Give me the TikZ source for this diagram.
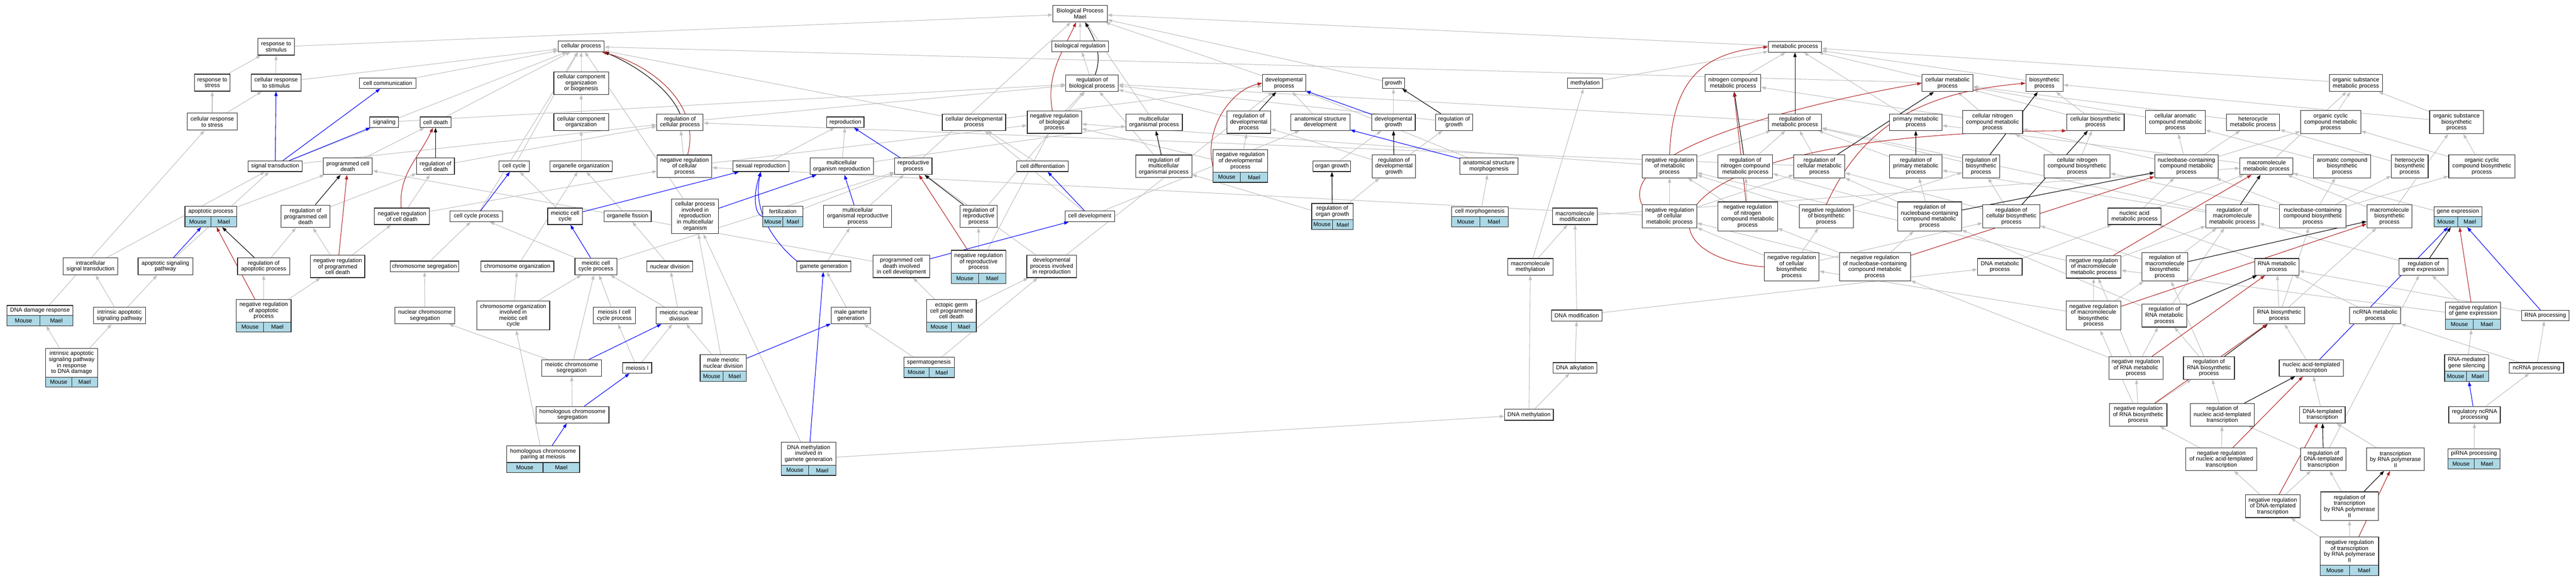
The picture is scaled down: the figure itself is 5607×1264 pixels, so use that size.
\documentclass[tikz,border=0pt]{standalone}
\usepackage{fontspec}
\setmainfont{Liberation Sans}
\usetikzlibrary{arrows.meta,fit}
\pgfdeclarelayer{bg}
\pgfsetlayers{bg,main}
\definecolor{eg}{RGB}{192,192,192}
\definecolor{mcol}{RGB}{173,216,230}
\definecolor{redc}{RGB}{178,34,34}
\tikzset{
 bx/.style={draw=black!85,line width=1.3pt,fill=white,inner sep=1pt,align=center,font=\fontsize{12.5pt}{13pt}\selectfont},
 gbx/.style={draw=black!85,line width=1.3pt,inner sep=0pt},
 txt/.style={inner sep=0pt,align=center,font=\fontsize{12.5pt}{13pt}\selectfont},
 ge/.style={draw=eg,line width=1.2pt,-{Triangle[length=10pt,width=7pt]}},
 be/.style={draw=blue,line width=1.2pt,-{Triangle[length=10pt,width=7pt]}},
 ke/.style={draw=black,line width=1.2pt,-{Triangle[length=10pt,width=7pt]}},
 re/.style={draw=redc,line width=1.2pt,-{Triangle[length=10pt,width=7pt]}},
}
\newcommand{\nd}[6]{\node[bx,minimum width=#4pt,minimum height=#5pt] (#1) at (#2,#3) {#6};}
\newcommand{\gn}[6]{%
 \fill[white] ({#2-#4/2},{#3}) rectangle ({#2+#4/2},{#3+#5});
 \fill[mcol] ({#2-#4/2},{#3+#5}) rectangle ({#2+#4/2},{#3+#5+22});
 \draw[draw=black!85,line width=1.3pt] ({#2-#4/2},{#3+#5}) -- ({#2+#4/2},{#3+#5}) ({#2},{#3+#5}) -- ({#2},{#3+#5+22});
 \node[txt] at ({#2},{#3+#5/2}) {#6};
 \node[txt] at ({#2-#4/4},{#3+#5+11}) {Mouse};
 \node[txt] at ({#2+#4/4},{#3+#5+11}) {Mael};
 \coordinate (#1-a) at ({#2-#4/2},{#3});
 \coordinate (#1-b) at ({#2+#4/2},{#3+#5+22});
 \node[gbx,fit=(#1-a)(#1-b)] (#1) {};
}
\begin{document}
\begin{tikzpicture}[x=1pt,y=-1pt]
\useasboundingbox (0,0) rectangle (5607,1264);
\begin{pgfonlayer}{bg}
\fill[white] (0,0) rectangle (5607,1264);
\end{pgfonlayer}
% row 30-101
\nd{BP}{2351}{30}{118}{36}{Biological Process\\Mael}
\nd{breg}{2351}{101}{124}{23}{biological regulation}
\nd{cp}{1265}{101}{100}{23}{cellular process}
\nd{mp}{3907}{102}{116}{23}{metabolic process}
\nd{rs}{601}{102}{79}{36}{response to\\stimulus}
% row 181
\nd{rbp}{2377}{181}{114}{36}{regulation of\\biological process}
\nd{rstress}{462}{180}{78}{37}{response to\\stress}
\nd{crs}{601}{180}{108}{37}{cellular response\\to stimulus}
\nd{ccomm}{844}{181}{123}{23}{cell communication}
\nd{ccoob}{1265}{181}{119}{49}{cellular component\\organization\\or biogenesis}
\nd{devp}{2795}{181}{94}{37}{developmental\\process}
\nd{growth}{3033}{181}{48}{23}{growth}
\nd{meth}{3450}{181}{77}{23}{methylation}
\nd{ncm}{3772}{181}{121}{37}{nitrogen compound\\metabolic process}
\nd{cmp}{4239}{181}{111}{37}{cellular metabolic\\process}
\nd{bsp}{4450}{181}{81}{37}{biosynthetic\\process}
\nd{osmp}{5128}{181}{116}{37}{organic substance\\metabolic process}
% row 266
\nd{crstress}{462}{265}{108}{37}{cellular response\\to stress}
\nd{sig}{836}{266}{62}{23}{signaling}
\nd{cdeath}{948}{266}{67}{23}{cell death}
\nd{cco}{1265}{266}{119}{37}{cellular component\\organization}
\nd{rcp}{1480}{266}{101}{36}{regulation of\\cellular process}
\nd{repro}{1840}{266}{81}{23}{reproduction}
\nd{cdp}{2120}{266}{138}{36}{cellular developmental\\process}
\nd{nrbp}{2295}{266}{118}{49}{negative regulation\\of biological\\process}
\nd{mop}{2512}{266}{123}{36}{multicellular\\organismal process}
\nd{rdp}{2718}{266}{95}{49}{regulation of\\developmental\\process}
\nd{asd}{2874}{266}{129}{36}{anatomical structure\\development}
\nd{dgrowth}{3033}{266}{95}{36}{developmental\\growth}
\nd{rgrowth}{3165}{266}{81}{36}{regulation of\\growth}
\nd{rmp}{3907}{266}{116}{36}{regulation of\\metabolic process}
\nd{pmp}{4170}{266}{114}{36}{primary metabolic\\process}
\nd{cncmp}{4337}{266}{131}{50}{cellular nitrogen\\compound metabolic\\process}
\nd{cbp}{4561}{266}{125}{36}{cellular biosynthetic\\process}
\nd{camp}{4735}{266}{130}{50}{cellular aromatic\\compound metabolic\\process}
\nd{hmp}{4904}{266}{116}{36}{heterocycle\\metabolic process}
\nd{occmp}{5073}{266}{131}{50}{organic cyclic\\compound metabolic\\process}
\nd{osbp}{5347}{266}{117}{50}{organic substance\\biosynthetic\\process}
% row 362
\nd{st}{599}{362}{118}{23}{signal transduction}
\nd{pcd}{757}{362}{107}{36}{programmed cell\\death}
\nd{rcd}{948}{362}{82}{36}{regulation of\\cell death}
\nd{ccyc}{1119}{362}{66}{23}{cell cycle}
\nd{oo}{1265}{362}{136}{23}{organelle organization}
\nd{nrcp}{1490}{362}{119}{49}{negative regulation\\of cellular\\process}
\nd{sexr}{1656}{362}{122}{23}{sexual reproduction}
\nd{mor}{1832}{362}{138}{36}{multicellular\\organism reproduction}
\nd{rp}{1988}{362}{81}{36}{reproductive\\process}
\nd{cdiff}{2269}{362}{112}{23}{cell differentiation}
\nd{rmop}{2533}{362}{122}{49}{regulation of\\multicellular\\organismal process}
\gn{nrdp}{2700}{326}{119}{49}{negative regulation\\of developmental\\process}
\nd{ogrowth}{2899}{362}{82}{23}{organ growth}
\nd{rdg}{3034}{362}{94}{50}{regulation of\\developmental\\growth}
\nd{asm}{3241}{362}{127}{36}{anatomical structure\\morphogenesis}
\nd{nrmp}{3634}{362}{119}{50}{negative regulation\\of metabolic\\process}
\nd{rncm}{3799}{362}{119}{50}{regulation of\\nitrogen compound\\metabolic process}
\nd{rcmp}{3960}{362}{111}{50}{regulation of\\cellular metabolic\\process}
\nd{rpmp}{4170}{362}{114}{50}{regulation of\\primary metabolic\\process}
\nd{rbsp}{4312}{362}{81}{50}{regulation of\\biosynthetic\\process}
\nd{cncbp}{4521}{362}{144}{50}{cellular nitrogen\\compound biosynthetic\\process}
\nd{nbcmp}{4759}{362}{138}{50}{nucleobase-containing\\compound metabolic\\process}
\nd{mmp}{4933}{362}{115}{36}{macromolecule\\metabolic process}
\nd{acbp}{5098}{362}{124}{50}{aromatic compound\\biosynthetic\\process}
\nd{hbp}{5245}{362}{80}{50}{heterocycle\\biosynthetic\\process}
\nd{occbp}{5402}{362}{144}{50}{organic cyclic\\compound biosynthetic\\process}
% row 471
\gn{apop}{459}{449}{113}{23}{apoptotic process}
\nd{rpcd}{665}{471}{107}{49}{regulation of\\programmed cell\\death}
\nd{nrcd}{875}{471}{120}{36}{negative regulation\\of cell death}
\nd{ccp}{1037}{471}{114}{23}{cell cycle process}
\nd{mcc}{1230}{471}{76}{36}{meiotic cell\\cycle}
\nd{ofis}{1366}{471}{103}{23}{organelle fission}
\nd{cpirmo}{1513}{471}{102}{76}{cellular process\\involved in\\reproduction\\in multicellular\\organism}
\gn{fert}{1704}{449}{87}{23}{fertilization}
\nd{morp}{1867}{471}{148}{49}{multicellular\\organismal reproductive\\process}
\nd{rrp}{2130}{471}{81}{49}{regulation of\\reproductive\\process}
\nd{cdev}{2372}{471}{108}{23}{cell development}
\gn{rog}{2900}{443}{90}{35}{regulation of\\organ growth}
\gn{cmorph}{3221}{450}{123}{22}{cell morphogenesis}
\nd{mmod}{3428}{471}{98}{36}{macromolecule\\modification}
\nd{nrcmp}{3634}{471}{119}{50}{negative regulation\\of cellular\\metabolic process}
\nd{nrncm}{3804}{471}{130}{63}{negative regulation\\of nitrogen\\compound metabolic\\process}
\nd{nrbsp}{3975}{471}{118}{50}{negative regulation\\of biosynthetic\\process}
\nd{rnbcmp}{4200}{471}{139}{63}{regulation of\\nucleobase-containing\\compound metabolic\\process}
\nd{rcbp}{4378}{471}{125}{50}{regulation of\\cellular biosynthetic\\process}
\nd{namp}{4646}{471}{116}{36}{nucleic acid\\metabolic process}
\nd{rmmp}{4859}{471}{116}{50}{regulation of\\macromolecule\\metabolic process}
\nd{nbcbp}{5034}{471}{145}{50}{nucleobase-containing\\compound biosynthetic\\process}
\nd{mbp}{5201}{471}{98}{50}{macromolecule\\biosynthetic\\process}
\gn{gexp}{5350}{450}{104}{22}{gene expression}
% row 580
\nd{ist}{197}{580}{119}{37}{intracellular\\signal transduction}
\nd{asp}{360}{580}{119}{37}{apoptotic signaling\\pathway}
\nd{rap}{574}{580}{114}{37}{regulation of\\apoptotic process}
\nd{nrpcd}{735}{580}{118}{49}{negative regulation\\of programmed\\cell death}
\nd{cseg}{924}{580}{150}{23}{chromosome segregation}
\nd{corg}{1126}{580}{159}{23}{chromosome organization}
\nd{mccp}{1297}{580}{91}{36}{meiotic cell\\cycle process}
\nd{ndiv}{1458}{580}{100}{23}{nuclear division}
\nd{gg}{1793}{580}{117}{23}{gamete generation}
\nd{pcdicd}{1962}{580}{123}{49}{programmed cell\\death involved\\in cell development}
\gn{nrrp}{2130}{545}{119}{50}{negative regulation\\of reproductive\\process}
\nd{dpir}{2289}{580}{108}{49}{developmental\\process involved\\in reproduction}
\nd{mmeth}{3331}{581}{98}{36}{macromolecule\\methylation}
\nd{nrcbp}{3900}{581}{119}{62}{negative regulation\\of cellular\\biosynthetic\\process}
\nd{nrnbcmp}{4081}{581}{155}{62}{negative regulation\\of nucleobase-containing\\compound metabolic\\process}
\nd{dnamp}{4353}{581}{97}{36}{DNA metabolic\\process}
\nd{nrmmp}{4557}{581}{119}{49}{negative regulation\\of macromolecule\\metabolic process}
\nd{rmbp}{4712}{581}{100}{62}{regulation of\\macromolecule\\biosynthetic\\process}
\nd{rnamp}{4956}{581}{96}{36}{RNA metabolic\\process}
\nd{rge}{5275}{581}{106}{36}{regulation of\\gene expression}
% row 687
\gn{ddr}{87}{665}{143}{22}{DNA damage response}
\nd{iasp}{260}{687}{113}{36}{intrinsic apoptotic\\signaling pathway}
\gn{nrap}{574}{652}{119}{49}{negative regulation\\of apoptotic\\process}
\nd{ncseg}{925}{687}{130}{36}{nuclear chromosome\\segregation}
\nd{coimcc}{1117}{687}{159}{63}{chromosome organization\\involved in\\meiotic cell\\cycle}
\nd{micp}{1337}{687}{92}{36}{meiosis I cell\\cycle process}
\nd{mnd}{1478}{687}{99}{36}{meiotic nuclear\\division}
\nd{mgg}{1852}{687}{86}{36}{male gamete\\generation}
\gn{egcpcd}{2071}{652}{108}{49}{ectopic germ\\cell programmed\\cell death}
\nd{dnamod}{3432}{687}{110}{24}{DNA modification}
\nd{nrmbp}{4557}{687}{119}{63}{negative regulation\\of macromolecule\\biosynthetic\\process}
\nd{rrnamp}{4711}{687}{97}{50}{regulation of\\RNA metabolic\\process}
\nd{rnabp}{4961}{687}{111}{36}{RNA biosynthetic\\process}
\nd{ncrnamp}{5170}{687}{111}{36}{ncRNA metabolic\\process}
\gn{nrge}{5383}{658}{120}{37}{negative regulation\\of gene expression}
\nd{rnaproc}{5540}{687}{103}{23}{RNA processing}
% row 801
\gn{iaspddr}{156}{759}{113}{62}{intrinsic apoptotic\\signaling pathway\\in response\\to DNA damage}
\nd{mcs}{1244}{801}{130}{36}{meiotic chromosome\\segregation}
\nd{meiosis1}{1387}{801}{63}{23}{meiosis I}
\gn{mmnd}{1574}{772}{100}{36}{male meiotic\\nuclear division}
\gn{sperm}{2022}{778}{110}{22}{spermatogenesis}
\nd{dnaalk}{3428}{801}{95}{23}{DNA alkylation}
\nd{nrrnamp}{4649}{801}{118}{49}{negative regulation\\of RNA metabolic\\process}
\nd{rrnabp}{4808}{801}{111}{49}{regulation of\\RNA biosynthetic\\process}
\nd{nat}{5031}{801}{140}{36}{nucleic acid-templated\\transcription}
\gn{rmgs}{5369}{772}{96}{36}{RNA-mediated\\gene silencing}
\nd{ncrnaproc}{5521}{801}{118}{23}{ncRNA processing}
% row 903
\nd{hcs}{1246}{903}{159}{36}{homologous chromosome\\segregation}
\nd{dnameth}{3328}{903}{106}{24}{DNA methylation}
\nd{nrrnabp}{4654}{903}{125}{49}{negative regulation\\of RNA biosynthetic\\process}
\nd{rnat}{4837}{903}{139}{49}{regulation of\\nucleic acid-templated\\transcription}
\nd{dtt}{5055}{903}{99}{36}{DNA-templated\\transcription}
\nd{rncrnap}{5386}{903}{112}{36}{regulatory ncRNA\\processing}
% row 1000
\gn{hcpm}{1182}{971}{159}{36}{homologous chromosome\\pairing at meiosis}
\gn{dmigg}{1760}{963}{119}{50}{DNA methylation\\involved in\\gamete generation}
\nd{nrnat}{4835}{1000}{155}{49}{negative regulation\\of nucleic acid-templated\\transcription}
\nd{rdtt}{5057}{1000}{98}{49}{regulation of\\DNA-templated\\transcription}
\nd{trp2}{5214}{1000}{125}{49}{transcription\\by RNA polymerase\\II}
\gn{pirna}{5385}{977}{113}{22}{piRNA processing}
% row 1102+
\nd{nrdtt}{4947}{1102}{118}{50}{negative regulation\\of DNA-templated\\transcription}
\nd{rtrp2}{5114}{1102}{125}{62}{regulation of\\transcription\\by RNA polymerase\\II}
\gn{nrtrp2}{5114}{1169}{127}{62}{negative regulation\\of transcription\\by RNA polymerase\\II}
% edges
\begin{pgfonlayer}{bg}
\foreach \cA/\pA in {rs/BP,rstress/rs,crs/rs,crs/cp,ccomm/cp,crstress/rstress,crstress/crs,sig/rbp,st/cp,st/rcp,%
ist/st,asp/st,ddr/crstress,pcd/cdeath,apop/pcd,rpcd/rcd,nrcd/rcd,nrcd/nrcp,nrpcd/rpcd,nrpcd/nrcd,rap/rpcd,%
nrap/rap,nrap/nrpcd,iasp/ist,iasp/asp,iaspddr/ddr,iaspddr/iasp,pcdicd/pcd,cdeath/cp,rcd/rcp,ccoob/cp,cco/ccoob,%
oo/cco,ofis/oo,corg/oo,ccyc/cp,ccp/cp,mcc/ccyc,mccp/ccp,mccp/rp,cseg/ccp,ncseg/cseg,ndiv/ofis,mnd/ndiv,mnd/mccp,%
micp/mccp,mcs/ncseg,mcs/mccp,meiosis1/micp,meiosis1/mnd,hcs/mcs,hcpm/coimcc,coimcc/corg,coimcc/mccp,mmnd/mnd,%
mmnd/cpirmo,dmigg/cpirmo,dmigg/dnameth,mgg/gg,sperm/mgg,sperm/dpir,egcpcd/pcdicd,egcpcd/dpir,gg/morp,fert/rp,%
sexr/repro,mor/repro,mor/mop,morp/rp,cpirmo/cp,rp/BP,rrp/rbp,nrrp/rrp,nrrp/nrbp,dpir/rp,dpir/devp,cdiff/cdp,%
cdev/cdp,cdev/asd,cdp/cp,cdp/devp,mop/BP,rmop/rbp,nrdp/rdp,nrdp/nrbp,rdp/rbp,devp/BP,asd/devp,dgrowth/growth,%
rgrowth/rbp,ogrowth/dgrowth,rdg/rgrowth,rdg/rdp,rog/rdg,rog/rmop,asm/devp,cmorph/asm,growth/BP,meth/mp,%
mmeth/meth,mmeth/mmod,mmod/mmp,dnamod/mmod,dnamod/dnamp,dnaalk/dnamod,dnameth/dnaalk,dnameth/mmeth,nrmp/rmp,%
nrmp/nrbp,nrcmp/nrmp,nrcmp/rcmp,nrcmp/nrcp,breg/BP,rbp/breg,rcp/rbp,nrcp/rcp,nrcp/nrbp,nrbp/rbp,mp/BP,ncm/mp,%
cmp/mp,cmp/cp,bsp/mp,osmp/mp,pmp/mp,rmp/rbp,cncmp/cmp,cncmp/ncm,cbp/cmp,cbp/bsp,camp/cmp,hmp/cmp,occmp/osmp,%
osbp/osmp,osbp/bsp,rncm/rmp,rcmp/rmp,rcmp/rcp,rpmp/rmp,rbsp/rmp,cncbp/cncmp,cncbp/cbp,nbcmp/cncmp,nbcmp/camp,%
nbcmp/hmp,nbcmp/occmp,mmp/pmp,mmp/osmp,acbp/camp,hbp/hmp,occbp/occmp,occbp/osbp,nrncm/rncm,nrncm/nrmp,%
nrbsp/rbsp,nrbsp/nrmp,rnbcmp/rcmp,rnbcmp/rpmp,rnbcmp/rncm,rcbp/rbsp,rcbp/rcmp,namp/nbcmp,namp/mmp,rmmp/rpmp,%
rmmp/rmp,nbcbp/nbcmp,nbcbp/acbp,nbcbp/hbp,nbcbp/occbp,nbcbp/cncbp,mbp/mmp,mbp/osbp,gexp/mmp,nrcbp/rcbp,%
nrcbp/nrbsp,nrcbp/nrcmp,nrnbcmp/rnbcmp,nrnbcmp/nrncm,nrnbcmp/nrcmp,dnamp/namp,nrmmp/rmmp,nrmmp/nrmp,rmbp/rmmp,%
rmbp/rcbp,rnamp/namp,rge/rmmp,nrmbp/rmbp,nrmbp/nrmmp,nrmbp/nrcbp,rrnamp/rnbcmp,rrnamp/rmmp,rnabp/rnamp,%
rnabp/nbcbp,rnabp/mbp,ncrnamp/rnamp,nrge/rge,nrge/nrmmp,rnaproc/rnamp,nat/rnabp,nrrnamp/rrnamp,nrrnamp/nrnbcmp,%
nrrnamp/nrmmp,rrnabp/rrnamp,rrnabp/rmbp,nrrnabp/nrrnamp,nrrnabp/rrnabp,nrrnabp/nrmbp,rnat/rrnabp,dtt/nat,%
nrnat/rnat,nrnat/nrrnabp,rdtt/rnat,rdtt/rge,trp2/dtt,pirna/rncrnap,nrdtt/rdtt,nrdtt/nrnat,rtrp2/rdtt,%
nrtrp2/rtrp2,nrtrp2/nrdtt,rncrnap/ncrnaproc,ncrnaproc/rnaproc,ncrnaproc/ncrnamp,rmgs/nrge}
 \draw[ge] (\cA) -- (\pA);
\foreach \cA/\pA in {st/crs,st/ccomm,st/sig,asp/apop,ccp/ccyc,mcc/sexr,mccp/mcc,mcs/mnd,hcs/meiosis1,hcpm/hcs,%
mmnd/mgg,dmigg/gg,cpirmo/mor,morp/mor,rp/repro,pcdicd/cdev,cdev/cdiff,dgrowth/devp,asm/asd,%
rnaproc/gexp,nat/gexp,rncrnap/rmgs}
 \draw[be] (\cA) -- (\pA);
\draw[be] (gg.north west) .. controls (1700,540) and (1635,470) .. (sexr.south);
\draw[be] (fert.west) .. controls (1640,465) and (1640,420) .. (sexr.south);
\foreach \cA/\pA in {rpcd/pcd,rcd/cdeath,rap/apop,rrp/rp,rmop/mop,rdp/devp,rgrowth/growth,rdg/dgrowth,%
rog/ogrowth,rmp/mp,rncm/ncm,rcmp/cmp,rpmp/pmp,rbsp/bsp,rnbcmp/nbcmp,rcbp/cbp,rmmp/mmp,rmbp/mbp,rge/gexp,%
rrnamp/rnamp,rrnabp/rnabp,rnat/nat,rdtt/dtt,rtrp2/trp2}
 \draw[ke] (\cA) -- (\pA);
\draw[ke] (rcp.north) .. controls (1460,200) and (1400,150) .. (cp.south east);
\foreach \cA/\pA in {nrpcd/pcd,nrap/apop,nrrp/rp,nrncm/ncm,%
nrnbcmp/nbcmp,nrmmp/mmp,nrmbp/mbp,nrge/gexp,nrrnamp/rnamp,nrrnabp/rnabp,nrnat/nat,nrdtt/dtt,nrtrp2/trp2}
 \draw[re] (\cA) -- (\pA);
\draw[ke] (rbp) to[out=70,in=-60] (BP);
\draw[re] (nrbp) to[out=100,in=-115] (BP);
\draw[re] (nrcd) to[out=95,in=-115] (cdeath);
\draw[re] (nrcp) to[out=75,in=-15] (cp);
\draw[re] (nrdp.west) .. controls (2620,280) and (2680,195) .. (devp.west);
\draw[re] (nrmp.north) .. controls (3640,180) and (3700,115) .. (mp.west);
\draw[re] (nrcmp.north west) .. controls (3520,330) and (3900,230) .. (cmp.west);
\draw[re] (nrbsp.north) .. controls (4060,260) and (4200,200) .. (bsp.west);
\draw[re] (nrcbp.west) .. controls (3560,560) and (3560,290) .. (cbp.south west);
\end{pgfonlayer}
\end{tikzpicture}
\end{document}
